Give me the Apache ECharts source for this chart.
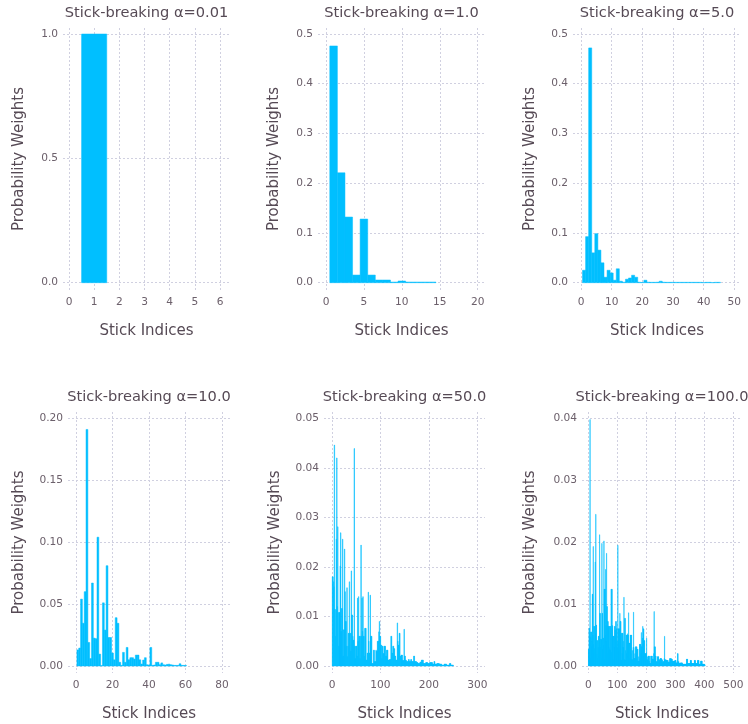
<!DOCTYPE html>
<html>
<head>
<meta charset="utf-8">
<script src="https://cdn.jsdelivr.net/npm/echarts@6/dist/echarts.min.js"></script>
<style>
  html, body { margin: 0; padding: 0; background: #ffffff; }
  #chart { width: 748px; height: 724px; }
</style>
</head>
<body>
<div id="chart"></div>
<script>
// Stick-breaking weights for six concentration parameters.

const alphas = ['0.01', '1.0', '5.0', '10.0', '50.0', '100.0'];

const weightsA001 = [1.0];

const weightsA1 = [
  0.476, 0.221, 0.132, 0.0154, 0.128, 0.0154, 0.0054, 0.0054, 0.0013, 0.0034,
  0.0013, 0.0013, 0.0013, 0.0013
];

const weightsA5 = [
  0.025, 0.0926, 0.472, 0.060, 0.0986, 0.0655, 0.040, 0.011, 0.025, 0.0196,
  0.005, 0.028, 0.003, 0.001, 0.007, 0.0095, 0.015, 0.011, 0.001, 0.0005,
  0.005, 0.001, 0.0008, 0.0008, 0.001, 0.003, 0.001, 0.0008, 0.0008, 0.0008,
  0.0008, 0.0008, 0.0008, 0.0008, 0.0008, 0.0008, 0.0008, 0.0008, 0.0008, 0.0002,
  0.0008, 0.0008, 0.0002, 0.0008, 0.0008
];

const weightsA10 = [
  0.013, 0.0145, 0.054, 0.0345, 0.060, 0.191, 0.019, 0.006, 0.067, 0.0225,
  0.022, 0.104, 0.0096, 0.0003, 0.051, 0.029, 0.081, 0.023, 0.023, 0.0105,
  0.005, 0.039, 0.0345, 0.003, 0.0005, 0.011, 0.003, 0.015, 0.005, 0.0067,
  0.0067, 0.0056, 0.0088, 0.0088, 0.005, 0.0016, 0.0048, 0.0067, 0.001, 0.0008,
  0.015, 0.0005, 0.0008, 0.003, 0.003, 0.001, 0.0025, 0.001, 0.0008, 0.0013,
  0.0015, 0.001, 0.0008, 0.0005, 0.0005, 0.0005, 0.0018, 0.0005, 0.0005, 0.0005
];

const weightsA50 = [
  0.018, 0.018, 0.017, 0.016, 0.0446, 0.0114, 0.006, 0.0114, 0.0256, 0.042,
  0.012, 0.0281, 0.0108, 0.004, 0.0108, 0.0108, 0.0202, 0.0269, 0.007, 0.0116,
  0.0116, 0.0256, 0.002, 0.0073, 0.0073, 0.0236, 0.015, 0.009, 0.009, 0.004,
  0.0158, 0.0019, 0.004, 0.0066, 0.0066, 0.017, 0.0066, 0.0066, 0.003, 0.0192,
  0.0103, 0.0103, 0.006, 0.0052, 0.0052, 0.0439, 0.004, 0.0015, 0.004, 0.004,
  0.004, 0.002, 0.0137, 0.005, 0.014, 0.006, 0.006, 0.0015, 0.006, 0.0244,
  0.006, 0.0137, 0.007, 0.014, 0.006, 0.006, 0.002, 0.0076, 0.0076, 0.0076,
  0.0012, 0.0012, 0.0026, 0.0026, 0.0149, 0.005, 0.0026, 0.0026, 0.0143, 0.006,
  0.006, 0.006, 0.0005, 0.0005, 0.0005, 0.0032, 0.0032, 0.0009, 0.0009, 0.0009,
  0.0032, 0.003, 0.003, 0.005, 0.005, 0.005, 0.0069, 0.009, 0.006, 0.006,
  0.0042, 0.0042, 0.0015, 0.004, 0.004, 0.0025, 0.0025, 0.004, 0.004, 0.004,
  0.002, 0.002, 0.0032, 0.0032, 0.0032, 0.0012, 0.0012, 0.0012, 0.0013, 0.0013,
  0.0013, 0.006, 0.006, 0.0026, 0.0026, 0.004, 0.004, 0.0035, 0.0035, 0.002,
  0.002, 0.0012, 0.0012, 0.0012, 0.0087, 0.005, 0.0042, 0.0042, 0.0066, 0.0066,
  0.002, 0.002, 0.0022, 0.0022, 0.0022, 0.0011, 0.0011, 0.0011, 0.0074, 0.002,
  0.002, 0.0012, 0.0012, 0.0009, 0.0009, 0.0009, 0.0009, 0.0013, 0.0013, 0.0009,
  0.0009, 0.0009, 0.0013, 0.0013, 0.0009, 0.0009, 0.0009, 0.0009, 0.002, 0.002,
  0.0009, 0.0009, 0.0009, 0.0009, 0.0007, 0.0007, 0.0007, 0.0005, 0.0005, 0.0005,
  0.0005, 0.0008, 0.0008, 0.0008, 0.0012, 0.0012, 0.0012, 0.0012, 0.0005, 0.0005,
  0.0005, 0.0005, 0.0005, 0.0007, 0.0007, 0.0007, 0.0007, 0.0005, 0.0005, 0.0005,
  0.0005, 0.0007, 0.0007, 0.0007, 0.0007, 0.0007, 0.0007, 0.0004, 0.0004, 0.0004,
  0.0009, 0.0009, 0.0004, 0.0004, 0.0004, 0.0004, 0.0005, 0.0005, 0.0005, 0.0005,
  0.0005, 0.0004, 0.0004, 0.0004, 0.0004, 0.0004, 0.0002, 0.0002, 0.0002, 0.0002,
  0.0002, 0.0004, 0.0004, 0.0004, 0.0004, 0.0004, 0.0002, 0.0002, 0.0002, 0.0002,
  0.0002, 0.0002, 0.0005, 0.0005, 0.0005, 0.0002, 0.0002, 0.0002, 0.0002, 0.0002
];

const weightsA100 = [
  0.0027, 0.0027, 0.0061, 0.0061, 0.0048, 0.0398, 0.0012, 0.0055, 0.0046, 0.0055,
  0.0055, 0.0032, 0.004, 0.0116, 0.0116, 0.005, 0.0193, 0.0035, 0.0064, 0.0022,
  0.0064, 0.0028, 0.0064, 0.0168, 0.0052, 0.0245, 0.0066, 0.0066, 0.0019, 0.0041,
  0.0041, 0.0012, 0.0041, 0.003, 0.0048, 0.0048, 0.0015, 0.0048, 0.0212, 0.0085,
  0.0085, 0.003, 0.0043, 0.0043, 0.0012, 0.0043, 0.0198, 0.0085, 0.0085, 0.0026,
  0.0045, 0.0045, 0.0033, 0.0202, 0.0124, 0.001, 0.0124, 0.0124, 0.005, 0.0156,
  0.0065, 0.004, 0.0182, 0.0096, 0.0096, 0.002, 0.0072, 0.0072, 0.0064, 0.0064,
  0.003, 0.0064, 0.0064, 0.0026, 0.0026, 0.0064, 0.0064, 0.0015, 0.0124, 0.0124,
  0.0022, 0.0124, 0.0065, 0.0065, 0.0048, 0.0048, 0.001, 0.0048, 0.0048, 0.003,
  0.0064, 0.0064, 0.0058, 0.0058, 0.0072, 0.0072, 0.006, 0.006, 0.0012, 0.003,
  0.004, 0.0195, 0.006, 0.006, 0.006, 0.0025, 0.006, 0.006, 0.0085, 0.0072,
  0.0072, 0.0072, 0.0009, 0.0009, 0.0053, 0.0053, 0.002, 0.0053, 0.0053, 0.003,
  0.003, 0.004, 0.0111, 0.001, 0.001, 0.0077, 0.0077, 0.0025, 0.0009, 0.0009,
  0.005, 0.005, 0.002, 0.005, 0.0052, 0.005, 0.0015, 0.005, 0.0086, 0.0037,
  0.0037, 0.0037, 0.0012, 0.0037, 0.005, 0.005, 0.002, 0.005, 0.005, 0.001,
  0.001, 0.001, 0.0025, 0.001, 0.003, 0.0087, 0.003, 0.0012, 0.0012, 0.0012,
  0.002, 0.0012, 0.0031, 0.0031, 0.001, 0.0031, 0.0031, 0.0027, 0.0027, 0.0008,
  0.0027, 0.0008, 0.0008, 0.0015, 0.0008, 0.0008, 0.0035, 0.0035, 0.0012, 0.0035,
  0.0035, 0.002, 0.0054, 0.0031, 0.0031, 0.002, 0.0045, 0.0064, 0.0045, 0.006,
  0.006, 0.0015, 0.0041, 0.0041, 0.002, 0.002, 0.0008, 0.002, 0.002, 0.002,
  0.0045, 0.001, 0.001, 0.0015, 0.001, 0.0005, 0.0016, 0.0016, 0.0016, 0.0008,
  0.0016, 0.0004, 0.0004, 0.0004, 0.0004, 0.0016, 0.0016, 0.0008, 0.0016, 0.0016,
  0.0011, 0.0011, 0.0011, 0.0005, 0.0011, 0.002, 0.0088, 0.0031, 0.0031, 0.0012,
  0.0031, 0.0016, 0.0016, 0.0007, 0.0007, 0.0007, 0.0003, 0.0007, 0.0015, 0.0015,
  0.0015, 0.0015, 0.0005, 0.001, 0.001, 0.001, 0.0004, 0.0012, 0.0012, 0.0012,
  0.0012, 0.0012, 0.001, 0.001, 0.001, 0.0004, 0.0007, 0.0007, 0.0007, 0.0007,
  0.0007, 0.0012, 0.0048, 0.001, 0.001, 0.001, 0.0003, 0.001, 0.0009, 0.0009,
  0.0009, 0.0009, 0.0009, 0.0004, 0.0009, 0.0006, 0.0006, 0.0006, 0.0006, 0.0006,
  0.0012, 0.0012, 0.0012, 0.0012, 0.0005, 0.0012, 0.0011, 0.0011, 0.0011, 0.0007,
  0.0007, 0.0008, 0.0008, 0.0008, 0.0003, 0.0008, 0.0008, 0.0008, 0.0009, 0.0009,
  0.0009, 0.0009, 0.0005, 0.0005, 0.0005, 0.0005, 0.0005, 0.002, 0.002, 0.0006,
  0.0007, 0.0007, 0.0004, 0.0004, 0.0004, 0.0004, 0.0004, 0.0005, 0.0005, 0.0005,
  0.0005, 0.0005, 0.0005, 0.0005, 0.0002, 0.0003, 0.0003, 0.0003, 0.0003, 0.0003,
  0.0003, 0.0003, 0.0003, 0.0003, 0.0003, 0.0003, 0.0003, 0.0003, 0.0011, 0.0011,
  0.0011, 0.0011, 0.0004, 0.0004, 0.0004, 0.0004, 0.0004, 0.0004, 0.0004, 0.0004,
  0.0004, 0.0009, 0.0009, 0.0009, 0.0009, 0.0004, 0.0004, 0.0004, 0.0004, 0.0004,
  0.0004, 0.0004, 0.0004, 0.0004, 0.0004, 0.0009, 0.0009, 0.0009, 0.0009, 0.0004,
  0.0004, 0.0004, 0.0004, 0.0004, 0.0004, 0.0004, 0.0009, 0.0009, 0.0009, 0.0009,
  0.0009, 0.0003, 0.0003, 0.0003, 0.0003, 0.0003, 0.0003, 0.0008, 0.0008, 0.0008,
  0.0008, 0.0008, 0.0003, 0.0003, 0.0003, 0.0003, 0.0003, 0.0003, 0.0003, 0.0003,
  0.0002, 0.0002
];

// Tick values for each panel's axes.
const xTicks = [
  [0, 1, 2, 3, 4, 5, 6],
  [0, 5, 10, 15, 20],
  [0, 10, 20, 30, 40, 50],
  [0, 20, 40, 60, 80],
  [0, 100, 200, 300],
  [0, 100, 200, 300, 400, 500]
];
const yTicks = [
  [0, 0.5, 1.0],
  [0, 0.1, 0.2, 0.3, 0.4, 0.5],
  [0, 0.1, 0.2, 0.3, 0.4, 0.5],
  [0, 0.05, 0.10, 0.15, 0.20],
  [0, 0.01, 0.02, 0.03, 0.04, 0.05],
  [0, 0.01, 0.02, 0.03, 0.04]
];
const yDecimals = [1, 1, 1, 2, 2, 2];
const allWeights = [weightsA001, weightsA1, weightsA5, weightsA10, weightsA50, weightsA100];

// Panel boxes in pixels; pad = distance from the box edge to the outermost ticks.
const layouts = [
  { left: 63,  top: 28,  width: 167, height: 262, pad: { l: 6,   r: 10,  t: 6,   b: 7.3 }, yGap: 36 },
  { left: 318, top: 28,  width: 167, height: 262, pad: { l: 8,   r: 7.3, t: 6,   b: 7.3 }, yGap: 36 },
  { left: 573, top: 28,  width: 168, height: 262, pad: { l: 8,   r: 6.7, t: 6,   b: 7.3 }, yGap: 35 },
  { left: 68,  top: 412, width: 162, height: 261, pad: { l: 8,   r: 8,   t: 6.3, b: 7   }, yGap: 41 },
  { left: 324, top: 412, width: 161, height: 261, pad: { l: 8,   r: 7.7, t: 6.3, b: 7   }, yGap: 41 },
  { left: 582, top: 412, width: 160, height: 261, pad: { l: 6.3, r: 8.7, t: 6.3, b: 7   }, yGap: 44 }
];

const FONT = 'DejaVu Sans';
const BAR = '#00bfff';
const GRID_LINE = { color: '#d0d0e0', width: 1, type: [2, 2] };
const TICK_COLOR = '#6c606b';
const LABEL_COLOR = '#564a55';

function extent(ticks, sizePx, padLo, padHi) {
  const lo = ticks[0], hi = ticks[ticks.length - 1];
  const perPx = (hi - lo) / (sizePx - padLo - padHi);
  return [lo - padLo * perPx, hi + padHi * perPx];
}

function onStep(v, step) {
  const q = v / step;
  return Math.abs(q - Math.round(q)) < 1e-6;
}

const grids = [], xAxes = [], yAxes = [], titles = [], series = [];

layouts.forEach((L, k) => {
  grids.push({ left: L.left, top: L.top, width: L.width, height: L.height,
               containLabel: false, outerBoundsMode: 'none' });

  const xs = xTicks[k], ys = yTicks[k];
  const xStep = xs[1] - xs[0], yStep = ys[1] - ys[0];
  const xr = extent(xs, L.width, L.pad.l, L.pad.r);
  const yr = extent(ys, L.height, L.pad.b, L.pad.t);

  xAxes.push({
    type: 'value', gridIndex: k, min: xr[0], max: xr[1],
    minInterval: xStep, maxInterval: xStep,
    axisLine: { show: false }, axisTick: { show: false },
    splitLine: { show: true, showMinLine: false, showMaxLine: false, lineStyle: GRID_LINE },
    axisLabel: {
      color: TICK_COLOR, fontFamily: FONT, fontSize: 10.6, margin: 7,
      formatter: v => onStep(v, xStep) && v >= xs[0] - 1e-9 && v <= xs[xs.length - 1] + 1e-9 ? String(Math.round(v)) : ''
    },
    name: 'Stick Indices', nameLocation: 'middle', nameGap: 33.5, nameMoveOverlap: false,
    nameTextStyle: { color: LABEL_COLOR, fontFamily: FONT, fontSize: 15 }
  });

  yAxes.push({
    type: 'value', gridIndex: k, min: yr[0], max: yr[1],
    minInterval: yStep, maxInterval: yStep,
    axisLine: { show: false }, axisTick: { show: false },
    splitLine: { show: true, showMinLine: false, showMaxLine: false, lineStyle: GRID_LINE },
    axisLabel: {
      color: TICK_COLOR, fontFamily: FONT, fontSize: 10.6, margin: 5,
      formatter: v => onStep(v, yStep) && v >= ys[0] - 1e-9 && v <= ys[ys.length - 1] + 1e-9 ? v.toFixed(yDecimals[k]) : ''
    },
    name: 'Probability Weights', nameLocation: 'middle', nameGap: L.yGap, nameMoveOverlap: false,
    nameTextStyle: { color: LABEL_COLOR, fontFamily: FONT, fontSize: 15 }
  });

  titles.push({
    text: 'Stick-breaking \u03b1=' + alphas[k],
    left: L.left + L.width / 2, top: L.top - 22, textAlign: 'center', padding: 0,
    textStyle: { color: LABEL_COLOR, fontFamily: FONT, fontSize: 14.6, fontWeight: 'normal' }
  });

  series.push({
    type: 'custom', xAxisIndex: k, yAxisIndex: k,
    data: allWeights[k].map((w, i) => [i + 1, w]),
    encode: { x: 0, y: 1 },
    silent: true,
    renderItem: (params, api) => {
      const x = api.value(0), y = api.value(1);
      const a = api.coord([x - 0.5, y]);
      const b = api.coord([x + 0.5, 0]);
      return { type: 'rect',
               shape: { x: a[0], y: a[1], width: b[0] - a[0], height: b[1] - a[1] },
               style: { fill: BAR, stroke: BAR, lineWidth: 0.5 } };
    }
  });
});

const chart = echarts.init(document.getElementById('chart'), null, { renderer: 'canvas' });
chart.setOption({
  animation: false,
  backgroundColor: '#ffffff',
  textStyle: { fontFamily: FONT },
  title: titles,
  grid: grids,
  xAxis: xAxes,
  yAxis: yAxes,
  series: series
});
</script>
</body>
</html>
